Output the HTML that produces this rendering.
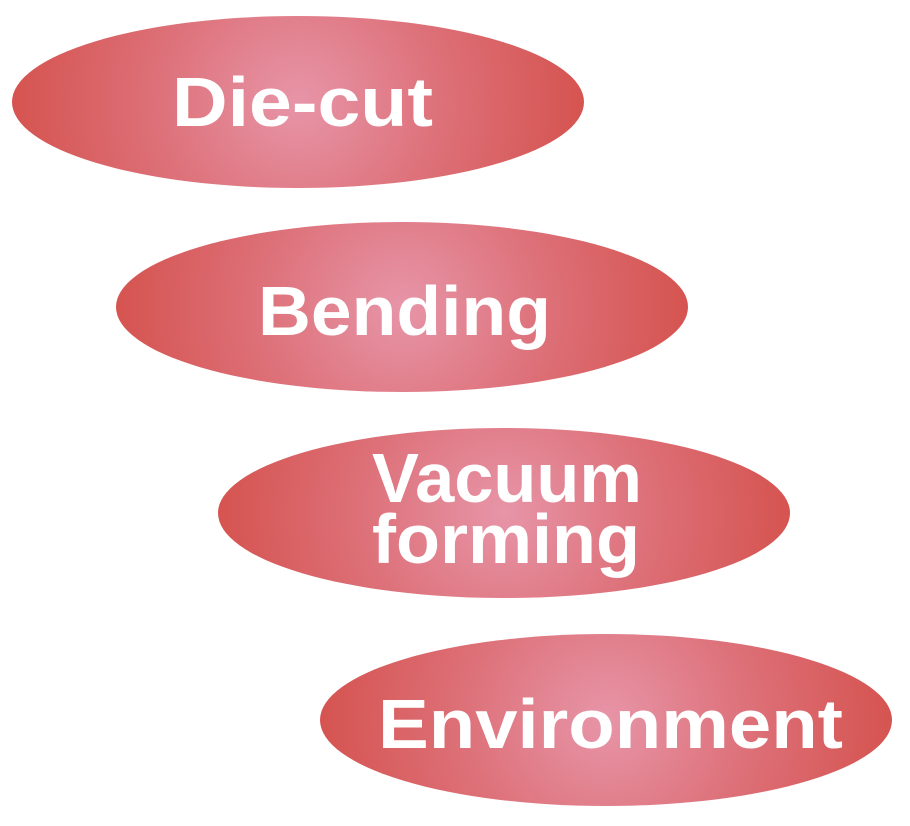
<!DOCTYPE html>
<html><head><meta charset="utf-8"><style>html,body{margin:0;padding:0;background:#fff}svg{display:block}</style></head>
<body>
<svg width="910" height="826" viewBox="0 0 910 826" xmlns="http://www.w3.org/2000/svg">
<defs>
<radialGradient id="g1" gradientUnits="userSpaceOnUse" cx="298" cy="102" r="290">
<stop offset="0" stop-color="#e795a8"/><stop offset="0.5" stop-color="#dd7078"/><stop offset="1" stop-color="#d5534f"/>
</radialGradient>
<radialGradient id="g2" gradientUnits="userSpaceOnUse" cx="402" cy="307" r="290">
<stop offset="0" stop-color="#e795a8"/><stop offset="0.5" stop-color="#dd7078"/><stop offset="1" stop-color="#d5534f"/>
</radialGradient>
<radialGradient id="g3" gradientUnits="userSpaceOnUse" cx="504" cy="513" r="290">
<stop offset="0" stop-color="#e795a8"/><stop offset="0.5" stop-color="#dd7078"/><stop offset="1" stop-color="#d5534f"/>
</radialGradient>
<radialGradient id="g4" gradientUnits="userSpaceOnUse" cx="606" cy="720" r="290">
<stop offset="0" stop-color="#e795a8"/><stop offset="0.5" stop-color="#dd7078"/><stop offset="1" stop-color="#d5534f"/>
</radialGradient>
</defs>
<ellipse cx="298" cy="102" rx="286" ry="86" fill="url(#g1)"/>
<ellipse cx="402" cy="307" rx="286" ry="85" fill="url(#g2)"/>
<ellipse cx="504" cy="513" rx="286" ry="85" fill="url(#g3)"/>
<ellipse cx="606" cy="720" rx="286" ry="86" fill="url(#g4)"/>
<g font-family="Liberation Sans, sans-serif" font-weight="bold" font-size="70" fill="#fff">
<text x="172" y="126" textLength="261" lengthAdjust="spacingAndGlyphs">Die-cut</text>
<text x="258" y="335" textLength="293" lengthAdjust="spacingAndGlyphs">Bending</text>
<text x="372" y="502" textLength="270" lengthAdjust="spacingAndGlyphs">Vacuum</text>
<text x="372" y="563" textLength="268" lengthAdjust="spacingAndGlyphs">forming</text>
<text x="378" y="748" textLength="465" lengthAdjust="spacingAndGlyphs">Environment</text>
</g>
</svg>
</body></html>
